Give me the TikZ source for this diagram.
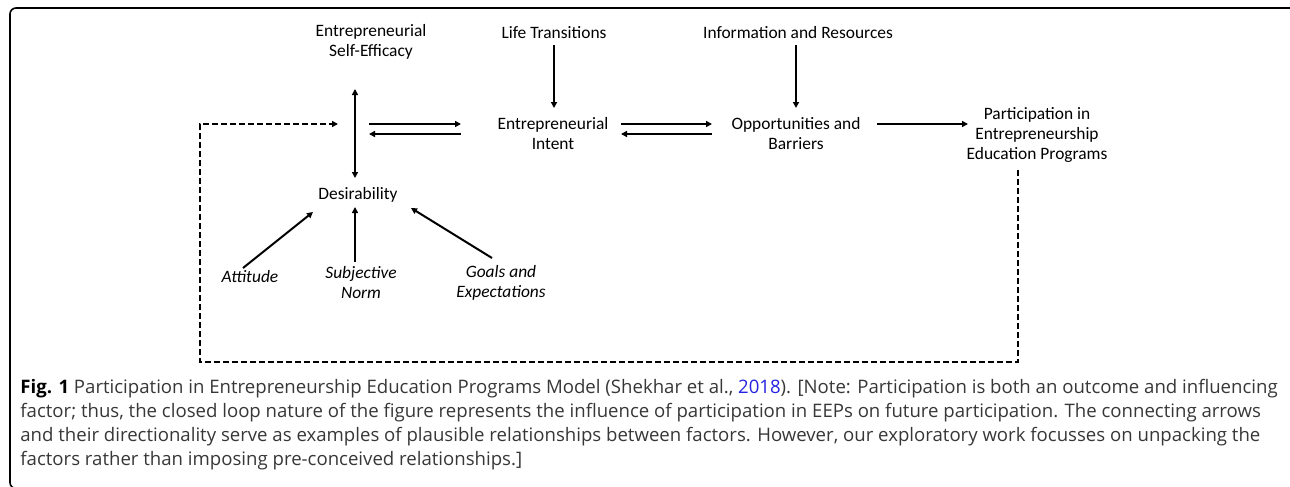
\documentclass[tikz,border=0pt]{standalone}
\usepackage{fontspec}
\setmainfont{Carlito}
\newfontfamily\captionfont{Open Sans}
\usetikzlibrary{arrows.meta, calc}

\definecolor{captiongray}{RGB}{55,55,55}
\definecolor{citeblue}{RGB}{35,35,225}

\tikzset{
    >={Triangle[length=3pt, width=3pt]},
    factor/.style={align=center, inner sep=0pt, font=\fontsize{8.7}{10}\selectfont},
    influence/.style={align=center, inner sep=0pt, font=\fontsize{8.7}{10}\selectfont\itshape},
    link/.style={line width=1pt, ->},
    feedback/.style={line width=1pt, dash pattern=on 3pt off 1.5pt, ->},
}

\begin{document}
\begin{tikzpicture}[x=0.5pt, y=-0.5pt]
    \useasboundingbox (0,0) rectangle (1290,487);
    \clip (0,0) rectangle (1290,487);

    % Frame round the figure
    \draw[line width=0.8pt, rounded corners=3pt] (10,8) rectangle (1296,488.5);

    % Factors
    \node[factor] (ese) at (371,42) {Entrepreneurial\\Self-Efficacy};
    \node[factor] (life) at (554,33) {Life Transitions};
    \node[factor] (info) at (798,33) {Information and Resources};
    \node[factor] (intent) at (553,134) {Entrepreneurial\\Intent};
    \node[factor] (opp) at (796,134) {Opportunities and\\Barriers};
    \node[factor] (part) at (1037,135) {Participation in\\Entrepreneurship\\Education Programs};
    \node[factor] (desir) at (358,195) {Desirability};

    % Influences on desirability
    \node[influence] (att) at (250,277) {Attitude};
    \node[influence] (subj) at (361,283) {Subjective\\Norm};
    \node[influence] (goals) at (501,283) {Goals and\\Expectations};

    % Junction of self-efficacy and desirability
    \coordinate (hub) at (355,124);
    \coordinate (loop) at (200,362);

    % Self-efficacy <-> desirability
    \draw[link, <->] ($(hub)+(0,-35)$) -- ($(hub)+(0,54)$);

    % Left pair
    \draw[link] ($(hub)+(14,0)$) -- ($(intent)+(-92,-10)$);
    \draw[link] ($(intent)+(-92,0)$) -- ($(hub)+(14,10)$);

    % Right pair
    \draw[link] ($(intent)+(68,-10)$) -- ($(opp)+(-84,-10)$);
    \draw[link] ($(opp)+(-84,0)$) -- ($(intent)+(68,0)$);

    % Into participation
    \draw[link] ($(opp)+(81,-10)$) -- ($(part)+(-69,-11)$);

    % Top inputs
    \draw[link] ($(life)+(0,12)$) -- ($(intent)+(1,-26)$);
    \draw[link] ($(opp)+(0,-89)$) -- ($(opp)+(0,-26)$);

    % Bottom inputs
    \draw[link] ($(att)+(-7,-9)$) -- ($(desir)+(-45,17)$);
    \draw[link] ($(subj)+(-6,-21)$) -- ($(desir)+(-3,12)$);
    \draw[link] ($(goals)+(-9,-25)$) -- ($(desir)+(53,13)$);

    % Feedback loop
    \draw[feedback] ($(part)+(-19,35)$) |- (loop) |- ($(hub)+(-17,0)$);

    % Caption
    \node[anchor=north west, align=left, inner sep=0pt, text=captiongray,
          font=\captionfont\fontsize{9.3}{11.9}\selectfont] (caption) at (20,379)
        {{\color{black}\textbf{Fig. 1}} Participation in Entrepreneurship Education Programs Model (Shekhar et al., \textcolor{citeblue}{2018}). [Note: Participation is both an outcome and influencing\\
         factor; thus, the closed loop nature of the figure represents the influence of participation in EEPs on future participation. The connecting arrows\\
         and their directionality serve as examples of plausible relationships between factors. However, our exploratory work focusses on unpacking the\\
         factors rather than imposing pre-conceived relationships.]};
\end{tikzpicture}
\end{document}
